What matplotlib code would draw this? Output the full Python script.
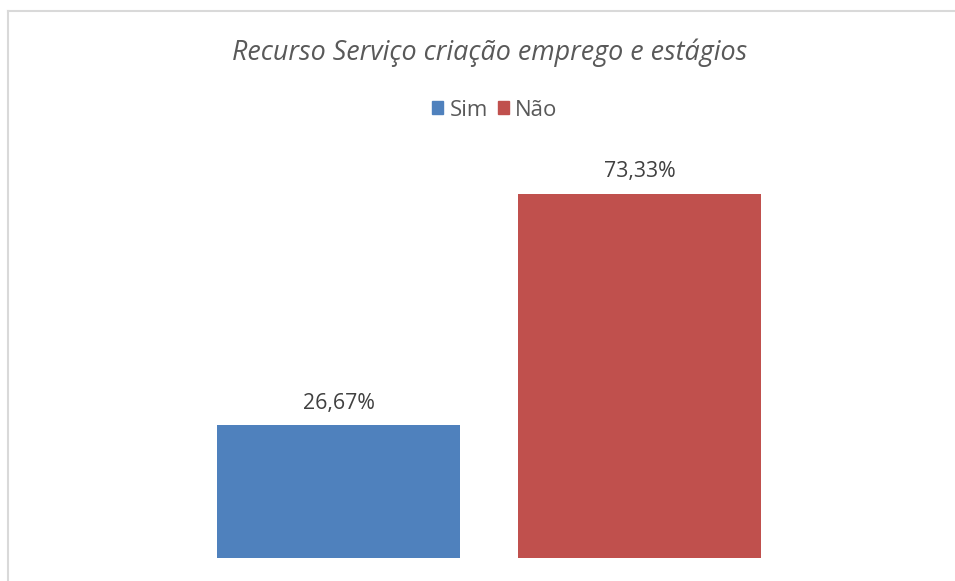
import matplotlib
matplotlib.use("Agg")
import matplotlib.pyplot as plt
from matplotlib.patches import Patch
from matplotlib.lines import Line2D

# Data
title = "Recurso Serviço criação emprego e estágios"
categories = ["Sim", "Não"]
values = [26.67, 73.33]
labels = ["26,67%", "73,33%"]
colors = ["#4F81BD", "#C0504D"]

plt.rcParams['font.family'] = ['Open Sans', 'DejaVu Sans']

W, H = 955, 581
fig = plt.figure(figsize=(W / 100, H / 100), dpi=100)

# chart border (only top and left edges are visible in the crop)
fig.add_artist(Line2D([8 / W, 8 / W], [0, 1 - 11 / H], color="#D9D9D9", lw=1.5))
fig.add_artist(Line2D([8 / W, 1], [1 - 11 / H, 1 - 11 / H], color="#D9D9D9", lw=1.5))

ax = fig.add_axes([188 / W, 23 / H, 602 / W, 397.6 / H])
x = range(len(categories))
bars = ax.bar(x, values, width=0.807, color=colors)
ax.set_xlim(-0.5, 1.5)
ax.set_ylim(0, 80)
ax.axis("off")

for b, lab in zip(bars, labels):
    ax.annotate(lab, (b.get_x() + b.get_width() / 2, b.get_height()),
                xytext=(0, 8), textcoords="offset points",
                ha="center", va="bottom", fontsize=15.3, color="#404040")

fig.text(490 / W, 1 - 53 / H, title, ha="center", va="center",
         fontsize=19.4, style="italic", color="#595959")

handles = [Patch(color=c, label=n) for c, n in zip(colors, categories)]
fig.legend(handles=handles, loc="center", bbox_to_anchor=(495 / W, 1 - 110 / H),
           ncol=2, frameon=False, fontsize=16, handlelength=0.48, handleheight=0.48,
           handletextpad=0.3, columnspacing=0.45, labelcolor="#595959")

fig.savefig("out.png", dpi=100)
